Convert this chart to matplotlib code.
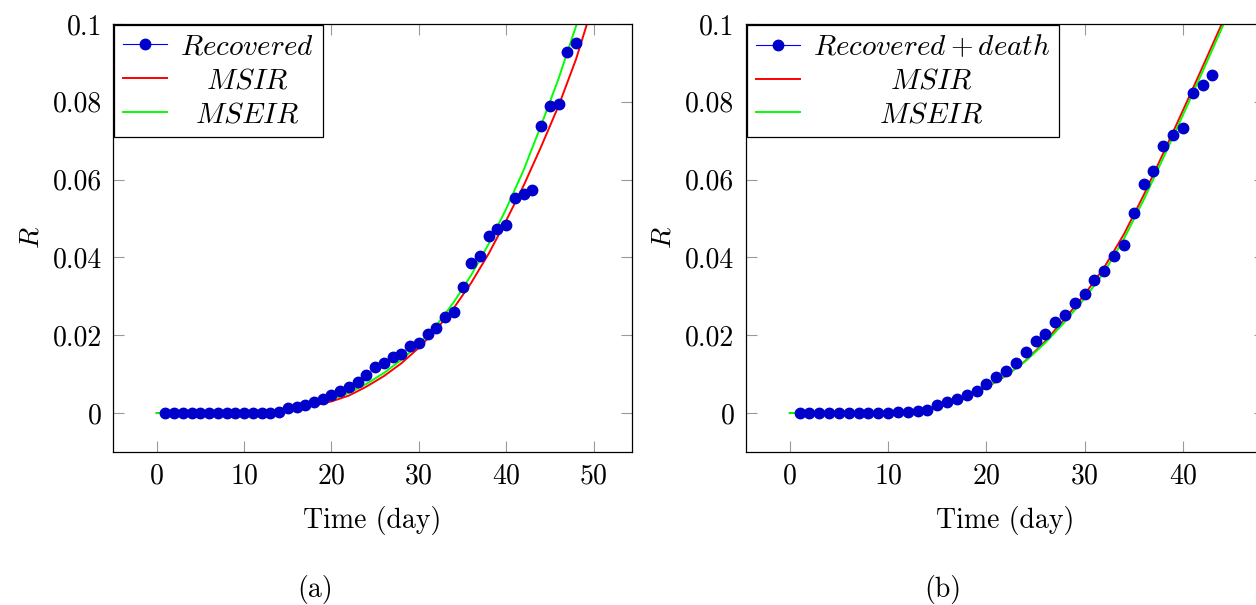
import numpy as np
import matplotlib
matplotlib.use("Agg")
import matplotlib.pyplot as plt
from matplotlib.ticker import FuncFormatter
from matplotlib.lines import Line2D

plt.rcParams['font.family'] = 'serif'
plt.rcParams['font.serif'] = ['cmr10']
plt.rcParams['mathtext.fontset'] = 'cm'
plt.rcParams['axes.formatter.use_mathtext'] = True
plt.rcParams['font.size'] = 20

# (a) recovered, days 1..48
days_a = list(range(1, 49))
rec_a = [0, 0, 0, 0, 0, 0, 0, 0, 0, 0,
         0.0001, 0.0001, 0.0001, 0.0002, 0.0012, 0.0016, 0.0020, 0.0029, 0.0036, 0.0046,
         0.0058, 0.0068, 0.0080, 0.0098, 0.0119, 0.0129, 0.0145, 0.0153, 0.0173, 0.0180,
         0.0203, 0.0218, 0.0248, 0.0259, 0.0325, 0.0385, 0.0404, 0.0456, 0.0474, 0.0483,
         0.0554, 0.0562, 0.0574, 0.0738, 0.0790, 0.0794, 0.0928, 0.0951]

model_days_a = list(range(0, 51, 2))
msir_a = [0, 0.0001, 0.0002, 0.0003, 0.0004, 0.0005, 0.0006, 0.0008, 0.0013, 0.0020,
          0.0030, 0.0045, 0.0068, 0.0095, 0.0128, 0.0168, 0.0215, 0.0270, 0.0335, 0.0410,
          0.0495, 0.0585, 0.0685, 0.0790, 0.0910, 0.1055]
mseir_a = [0, 0.0001, 0.0002, 0.0003, 0.0004, 0.0005, 0.0006, 0.0009, 0.0014, 0.0023,
           0.0035, 0.0052, 0.0075, 0.0103, 0.0137, 0.0177, 0.0225, 0.0285, 0.0355, 0.0435,
           0.0525, 0.0625, 0.0740, 0.0860, 0.0995, 0.1145]

# (b) recovered + death, days 1..43
days_b = list(range(1, 44))
rec_b = [0, 0, 0, 0, 0, 0, 0, 0, 0, 0,
         0.0002, 0.0004, 0.0005, 0.0007, 0.0021, 0.0029, 0.0037, 0.0046, 0.0057, 0.0074,
         0.0092, 0.0109, 0.0129, 0.0156, 0.0184, 0.0203, 0.0235, 0.0252, 0.0284, 0.0306,
         0.0341, 0.0365, 0.0403, 0.0432, 0.0515, 0.0589, 0.0621, 0.0686, 0.0714, 0.0734,
         0.0823, 0.0844, 0.0869]

model_days_b = list(range(0, 47, 2))
msir_b = [0, 0.0001, 0.0001, 0.0002, 0.0002, 0.0003, 0.0006, 0.0011, 0.0020, 0.0041,
          0.0066, 0.0096, 0.0135, 0.0185, 0.0243, 0.0305, 0.0375, 0.0460, 0.0560, 0.0668,
          0.0778, 0.0890, 0.1003, 0.1115]
mseir_b = [0, 0.0001, 0.0001, 0.0002, 0.0002, 0.0003, 0.0006, 0.0012, 0.0023, 0.0043,
           0.0068, 0.0097, 0.0134, 0.0181, 0.0235, 0.0295, 0.0363, 0.0448, 0.0548, 0.0656,
           0.0766, 0.0878, 0.0992, 0.1105]

yticks = [0, 0.02, 0.04, 0.06, 0.08, 0.1]

fig = plt.figure(figsize=(12.56, 6.05), dpi=100)
ax1 = fig.add_axes([0.09, 0.2529, 0.4132, 0.7074])
ax2 = fig.add_axes([0.5936, 0.2529, 0.4132, 0.7074])


def draw_panel(ax, days, rec, rec_label, mdays, msir, mseir, xlim, xticks):
    l_msir, = ax.plot(mdays, msir, color=(1, 0, 0), lw=1.4, zorder=2)
    l_mseir, = ax.plot(mdays, mseir, color=(0, 1, 0), lw=1.4, zorder=2)
    ax.plot(days, rec, ls='none', marker='o', markersize=7.5,
            markerfacecolor='#0000cc', markeredgecolor='#0000cc', zorder=3)
    rec_handle = Line2D([], [], color='#0000ff', lw=0.8, marker='o', markersize=7.5,
                        markerfacecolor='#0000cc', markeredgecolor='#0000cc')
    ax.set_xlim(*xlim)
    ax.set_ylim(-0.01, 0.1)
    ax.set_xticks(xticks)
    ax.set_yticks(yticks)
    ax.yaxis.set_major_formatter(FuncFormatter(lambda v, p: '%g' % round(v, 4)))
    ax.tick_params(direction='in', length=8, width=0.8, color='#999999',
                   top=True, right=True, pad=8)
    for s in ax.spines.values():
        s.set_linewidth(0.9)
    ax.set_xlabel('Time (day)', labelpad=12)
    ax.set_ylabel(r'$R$', labelpad=6)
    leg = ax.legend([rec_handle, l_msir, l_mseir], [rec_label, r'$MSIR$', r'$MSEIR$'],
                    loc='upper left', fontsize=21,
                    borderaxespad=0.05, fancybox=False, framealpha=1, edgecolor='black',
                    handlelength=1.5, labelspacing=0.25, borderpad=0.3, handletextpad=0.45)
    leg.get_frame().set_linewidth(0.9)
    return leg


leg1 = draw_panel(ax1, days_a, rec_a, r'$Recovered$', model_days_a, msir_a, mseir_a,
                  (-5, 54.4), [0, 10, 20, 30, 40, 50])
leg2 = draw_panel(ax2, days_b, rec_b, r'$Recovered+death$', model_days_b, msir_b, mseir_b,
                  (-4.5, 48.3), [0, 10, 20, 30, 40])

fig.text(315 / 1256, 1 - 590 / 605, '(a)', ha='center', va='center')
fig.text(943 / 1256, 1 - 590 / 605, '(b)', ha='center', va='center')

# center legend labels like pgfplots does
fig.canvas.draw()
for leg in (leg1, leg2):
    texts = leg.get_texts()
    widths = [t.get_window_extent().width for t in texts]
    wmax = max(widths)
    for t, w in zip(texts, widths):
        t.set_position(((wmax - w) / 2, 0))

fig.savefig('out.png', dpi=100)
